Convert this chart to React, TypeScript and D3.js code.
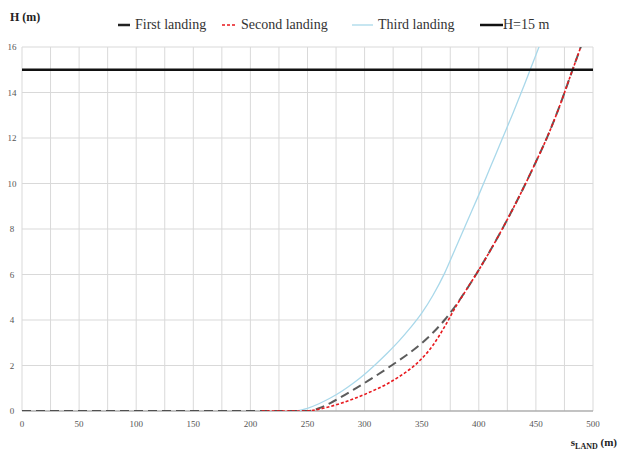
import React from "react";
import * as d3 from "d3";

const sFirst = [0, 50, 100, 150, 200, 240, 250, 260, 270, 280, 290, 300, 310, 320, 330, 340, 350, 360, 370, 380, 390, 400, 410, 420, 430, 440, 450, 460, 470, 480, 490];
const hFirst = [0, 0, 0, 0, 0, 0, 0, 0.12, 0.35, 0.63, 0.93, 1.23, 1.55, 1.88, 2.22, 2.58, 2.98, 3.45, 4.0, 4.65, 5.4, 6.2, 7.05, 7.95, 8.9, 9.9, 10.95, 12.05, 13.3, 14.7, 16.1];

const sSecond = [210, 240, 250, 260, 270, 280, 290, 300, 310, 320, 330, 340, 350, 360, 370, 380, 390, 400, 410, 420, 430, 440, 450, 460, 470, 480, 490];
const hSecond = [0, 0, 0, 0.08, 0.2, 0.35, 0.53, 0.73, 0.95, 1.2, 1.5, 1.85, 2.3, 2.9, 3.7, 4.6, 5.4, 6.2, 7.05, 7.95, 8.9, 9.9, 10.95, 12.05, 13.3, 14.7, 16.1];

const sThird = [240, 250, 260, 270, 280, 290, 300, 310, 320, 330, 340, 350, 360, 370, 380, 390, 400, 410, 420, 430, 440, 450, 455];
const hThird = [0, 0.12, 0.32, 0.57, 0.87, 1.22, 1.62, 2.07, 2.55, 3.07, 3.65, 4.3, 5.1, 6.05, 7.2, 8.35, 9.5, 10.7, 11.9, 13.1, 14.35, 15.65, 16.3];

const hLimit = 15;
const xTicks = [0, 50, 100, 150, 200, 250, 300, 350, 400, 450, 500];
const yTicks = [0, 2, 4, 6, 8, 10, 12, 14, 16];
const legendLabels = ["First landing", "Second landing", "Third landing", "H=15 m"];

const W = 623, H = 454;
const left = 22, right = 593, top = 47, bottom = 411;

export default function App() {
  const x = d3.scaleLinear().domain([0, 500]).range([left, right]);
  const y = d3.scaleLinear().domain([0, 16]).range([bottom, top]);
  const line = d3.line<[number, number]>().x(d => x(d[0])).y(d => y(d[1])).curve(d3.curveMonotoneX);
  const mk = (s: number[], h: number[]) => line(s.map((v, i) => [v, h[i]] as [number, number])) || "";
  const vGrid = d3.range(0, 501, 25);
  const hGrid = d3.range(0, 17, 2);
  const font = "'Liberation Serif', 'Times New Roman', serif";
  return (
    <svg width={W} height={H} style={{ position: "absolute", left: 0, top: 0, background: "#fff" }} fontFamily={font}>
      <defs>
        <clipPath id="plot"><rect x={left} y={top} width={right - left} height={bottom - top} /></clipPath>
      </defs>
      {vGrid.map(v => (
        <line key={"v" + v} x1={x(v)} x2={x(v)} y1={top} y2={bottom} stroke="#d9d9d9" strokeWidth={1} />
      ))}
      {hGrid.map(v => (
        <line key={"h" + v} x1={left} x2={right} y1={y(v)} y2={y(v)} stroke="#d9d9d9" strokeWidth={1} />
      ))}
      <line x1={left} x2={right} y1={bottom} y2={bottom} stroke="#999" strokeWidth={1} />
      {xTicks.map(v => (
        <text key={"xt" + v} x={x(v)} y={427} fontSize={9} textAnchor="middle" fill="#555">{v}</text>
      ))}
      {yTicks.map(v => (
        <text key={"yt" + v} x={12} y={y(v) + 3} fontSize={9} textAnchor="middle" fill="#555">{v}</text>
      ))}
      <g clipPath="url(#plot)">
        <path d={mk(sThird, hThird)} fill="none" stroke="#a9d8ea" strokeWidth={1.3} />
        <path d={mk(sFirst, hFirst)} fill="none" stroke="#333" strokeWidth={2} strokeDasharray="9,5" strokeOpacity={0.8} />
        <path d={mk(sSecond, hSecond)} fill="none" stroke="#e8191e" strokeWidth={1.6} strokeDasharray="3,2" />
      </g>
      <line x1={left} x2={right} y1={y(hLimit)} y2={y(hLimit)} stroke="#111" strokeWidth={2.5} />
      <text x={10} y={21} fontSize={12} fontWeight="bold" fill="#222">H (m)</text>
      <text x={617} y={446} fontSize={11} fontWeight="bold" fill="#222" textAnchor="end">
        s<tspan fontSize={8} dy={3}>LAND</tspan><tspan dy={-3}> (m)</tspan>
      </text>
      <g fontSize={14} fill="#333">
        <line x1={118} x2={130} y1={25} y2={25} stroke="#222" strokeWidth={2.5} />
        <text x={135} y={29}>{legendLabels[0]}</text>
        <line x1={222} x2={237} y1={25} y2={25} stroke="#e8191e" strokeWidth={1.6} strokeDasharray="3,2" />
        <text x={241} y={29}>{legendLabels[1]}</text>
        <line x1={352} x2={373} y1={25} y2={25} stroke="#a9d8ea" strokeWidth={1.3} />
        <text x={378} y={29}>{legendLabels[2]}</text>
        <line x1={480} x2={503} y1={25} y2={25} stroke="#111" strokeWidth={2.5} />
        <text x={503} y={29}>{legendLabels[3]}</text>
      </g>
    </svg>
  );
}
